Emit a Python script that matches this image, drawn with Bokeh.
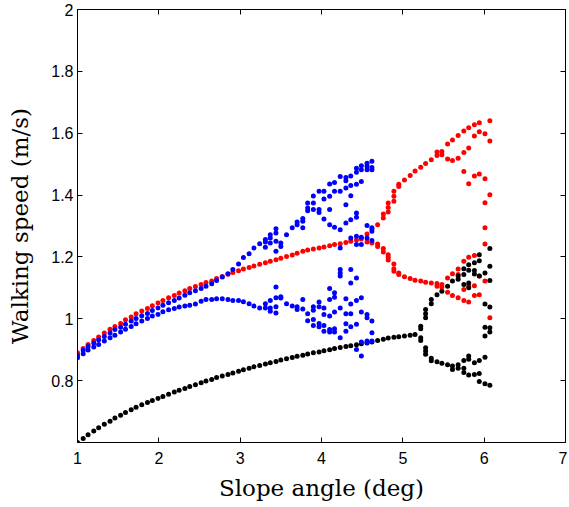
from bokeh.plotting import figure
from bokeh.models import LinearAxis, FixedTicker, Range1d, ColumnDataSource
from bokeh.embed import file_html
from bokeh.resources import INLINE

# ---------------- data ----------------
SLOPE = [1.00, 1.07, 1.13, 1.20, 1.26, 1.33, 1.40, 1.46, 1.53, 1.59,
         1.66, 1.72, 1.79, 1.86, 1.92, 1.99, 2.05, 2.12, 2.19, 2.25,
         2.32, 2.38, 2.45, 2.52, 2.58, 2.65, 2.71, 2.78, 2.85, 2.91,
         2.98, 3.04, 3.11, 3.17, 3.24, 3.31, 3.37, 3.44, 3.50, 3.57,
         3.64, 3.70, 3.77, 3.83, 3.90, 3.97, 4.03, 4.10, 4.16, 4.23,
         4.30, 4.36, 4.43, 4.49, 4.56, 4.62, 4.69, 4.76, 4.82, 4.89,
         4.95, 5.02, 5.09, 5.15, 5.22, 5.28, 5.35, 5.42, 5.48, 5.55,
         5.61, 5.68, 5.75, 5.81, 5.88, 5.94, 6.01, 6.07]

BLACK_MAIN = [0.600, 0.613, 0.625, 0.637, 0.648, 0.659, 0.669, 0.679, 0.688, 0.697,
              0.706, 0.714, 0.722, 0.729, 0.736, 0.742, 0.749, 0.756, 0.763, 0.769,
              0.775, 0.781, 0.787, 0.793, 0.799, 0.804, 0.810, 0.815, 0.820, 0.825,
              0.830, 0.835, 0.840, 0.845, 0.849, 0.854, 0.858, 0.862, 0.867, 0.871,
              0.875, 0.879, 0.882, 0.886, 0.890, 0.893, 0.897, 0.900, 0.904, 0.907,
              0.910, 0.913, 0.916, 0.919, 0.922, 0.925, 0.930, 0.934, 0.938, 0.940,
              0.942, 0.944, 0.947, 0.949]

BLACK_BRANCH = {
    5.22: [0.976, 0.968, 0.939, 0.930],
    5.28: [1.030, 1.016, 1.003, 0.906, 0.896, 0.885],
    5.35: [1.062, 1.049, 0.872, 0.864],
    5.42: [1.078, 0.861],
    5.48: [1.089, 0.856],
    5.55: [1.105, 0.851],
    5.61: [1.122, 0.847, 0.836],
    5.68: [1.138, 1.128, 0.851, 0.840],
    5.75: [1.162, 1.143, 1.111, 0.865, 0.840, 0.826],
    5.81: [1.175, 1.157, 1.116, 1.100, 0.880, 0.869, 0.818],
    5.88: [1.181, 1.156, 1.145, 0.858, 0.820],
    5.94: [1.207, 1.188, 1.138, 0.865, 0.823, 0.797],
    6.01: [1.148, 1.048, 0.973, 0.944, 0.876, 0.790],
    6.07: [1.227, 1.170, 1.124, 1.038, 0.971, 0.957, 0.785],
}

RED_MAIN = [0.890, 0.904, 0.917, 0.930, 0.941, 0.954, 0.966, 0.975, 0.985, 0.997,
            1.006, 1.016, 1.025, 1.033, 1.042, 1.051, 1.059, 1.068, 1.075, 1.083,
            1.091, 1.098, 1.104, 1.111, 1.117, 1.122, 1.130, 1.137, 1.144, 1.150,
            1.155, 1.161, 1.166, 1.171, 1.176, 1.181, 1.186, 1.191, 1.196, 1.201,
            1.206, 1.212, 1.218, 1.222, 1.226, 1.229, 1.232, 1.236, 1.240, 1.243,
            1.247, 1.251, 1.255, 1.258]

RED_BRANCH = {
    4.56: [1.274, 1.248],
    4.62: [1.290, 1.245],
    4.69: [1.304, 1.242, 1.234],
    4.76: [1.339, 1.326, 1.227, 1.216],
    4.82: [1.374, 1.360, 1.345, 1.207, 1.199, 1.190],
    4.89: [1.412, 1.396, 1.380, 1.177, 1.162, 1.154],
    4.95: [1.435, 1.428, 1.148, 1.143],
    5.02: [1.449, 1.136],
    5.09: [1.463, 1.130],
    5.15: [1.478, 1.125],
    5.22: [1.490, 1.122],
    5.28: [1.502, 1.118],
    5.35: [1.514, 1.116],
    5.42: [1.539, 1.528, 1.114, 1.105],
    5.48: [1.541, 1.530, 1.111, 1.103],
    5.55: [1.565, 1.517, 1.132, 1.086],
    5.61: [1.578, 1.512, 1.146, 1.075],
    5.68: [1.593, 1.519, 1.161, 1.143, 1.068],
    5.75: [1.607, 1.538, 1.476, 1.186, 1.095, 1.059],
    5.81: [1.618, 1.552, 1.437, 1.199, 1.107, 1.054],
    5.88: [1.627, 1.591, 1.462, 1.205, 1.107, 1.075],
    5.94: [1.634, 1.605, 1.468, 1.138, 1.078],
    6.01: [1.598, 1.453, 1.375, 1.294, 1.242, 1.122],
    6.07: [1.640, 1.575, 1.401, 1.003],
}

BLUE_UPPER = [0.882, 0.898, 0.910, 0.922, 0.932, 0.943, 0.954, 0.965, 0.973, 0.982,
              0.993, 1.001, 1.010, 1.017, 1.027, 1.035, 1.044, 1.052, 1.059, 1.067,
              1.076, 1.084, 1.091, 1.098, 1.105, 1.113, 1.124, 1.135, 1.146, 1.159,
              1.177, 1.198, 1.210, 1.229, 1.243]

BLUE_LOWER = [0.874, 0.887, 0.899, 0.909, 0.917, 0.928, 0.939, 0.947, 0.957, 0.966,
              0.975, 0.984, 0.993, 1.001, 1.009, 1.014, 1.023, 1.029, 1.033, 1.038,
              1.041, 1.044, 1.048, 1.057, 1.062, 1.062, 1.065, 1.065, 1.062, 1.059,
              1.059, 1.055, 1.049, 1.041, 1.035]

BLUE_BRANCH = {
    3.31: [1.256, 1.248, 1.231, 1.049, 1.035],
    3.37: [1.272, 1.261, 1.245, 1.059, 1.035, 1.024],
    3.44: [1.291, 1.277, 1.251, 1.218, 1.103, 1.068, 1.039, 1.019],
    3.50: [1.245, 1.234, 1.071, 1.067],
    3.57: [1.272, 1.049],
    3.64: [1.294, 1.041],
    3.70: [1.313, 1.304, 1.039, 1.030],
    3.77: [1.324, 1.315, 1.294, 1.062, 1.032],
    3.83: [1.374, 1.358, 1.349, 1.016, 0.994],
    3.90: [1.397, 1.374, 1.353, 1.039, 1.028, 0.998, 0.978],
    3.97: [1.412, 1.353, 1.344, 1.054, 1.039, 0.985, 0.974],
    4.03: [1.412, 1.387, 1.323, 1.035, 1.014, 0.978, 0.960],
    4.10: [1.436, 1.396, 1.353, 1.304, 1.098, 1.062, 1.009, 0.965, 0.957],
    4.16: [1.441, 1.412, 1.296, 1.084, 1.070, 1.022, 0.968, 0.957],
    4.23: [1.460, 1.412, 1.288, 1.229, 1.159, 1.148, 1.138, 1.035, 0.939],
    4.30: [1.457, 1.446, 1.423, 1.369, 1.310, 1.065, 1.016, 0.984, 0.960],
    4.36: [1.462, 1.431, 1.398, 1.320, 1.261, 1.159, 1.116, 1.048, 1.016, 0.974],
    4.43: [1.487, 1.474, 1.435, 1.342, 1.328, 1.267, 1.240, 1.132, 1.059, 0.982, 0.901],
    4.49: [1.495, 1.482, 1.444, 1.264, 1.240, 1.068, 1.022, 0.925, 0.880],
    4.56: [1.503, 1.493, 1.482, 1.302, 1.261, 1.014, 1.003, 0.928, 0.923],
    4.62: [1.509, 1.489, 1.482, 1.294, 1.283, 1.253, 0.993, 0.955, 0.928],
}

X_TICKS = [1, 2, 3, 4, 5, 6, 7]
Y_TICKS = [0.8, 1.0, 1.2, 1.4, 1.6, 1.8, 2.0]
Y_LABELS = ["0.8", "1", "1.2", "1.4", "1.6", "1.8", "2"]


def collect(main, branch):
    xs = list(SLOPE[:len(main)])
    ys = list(main)
    for s, vals in branch.items():
        xs.extend([s] * len(vals))
        ys.extend(vals)
    return ColumnDataSource(dict(x=xs, y=ys))


black_src = collect(BLACK_MAIN, BLACK_BRANCH)
red_src = collect(RED_MAIN, RED_BRANCH)
blue_up = ColumnDataSource(dict(x=SLOPE[:len(BLUE_UPPER)], y=BLUE_UPPER))
blue_src = collect(BLUE_LOWER, BLUE_BRANCH)

# ---------------- figure ----------------
p = figure(frame_width=488, frame_height=433,
           x_range=Range1d(1, 7), y_range=Range1d(0.6, 2),
           output_backend="svg", toolbar_location=None,
           min_border_left=77, min_border_top=9, min_border_right=2,
           min_border_bottom=40,
           background_fill_color="white", border_fill_color="white")
p.xgrid.visible = False
p.ygrid.visible = False
p.outline_line_color = "black"
p.outline_line_width = 1

TICK_FONT = "Liberation Sans"
LABEL_FONT = "DejaVu Serif"

xa = p.xaxis[0]
xa.ticker = FixedTicker(ticks=X_TICKS)
xa.axis_label = "Slope angle (deg)"
ya = p.yaxis[0]
ya.ticker = FixedTicker(ticks=Y_TICKS)
ya.major_label_overrides = {t: l for t, l in zip(Y_TICKS, Y_LABELS)}
ya.axis_label = "Walking speed (m/s)"

for ax in (xa, ya):
    ax.major_tick_in = 5
    ax.major_tick_out = 0
    ax.minor_tick_line_color = None
    ax.axis_line_color = "black"
    ax.major_tick_line_color = "black"
    ax.major_label_text_font = TICK_FONT
    ax.major_label_text_font_size = "16px"
    ax.major_label_text_color = "black"
    ax.axis_label_text_font = LABEL_FONT
    ax.axis_label_text_font_size = "23px"
    ax.axis_label_text_font_style = "normal"
    ax.axis_label_text_color = "black"
xa.major_label_standoff = 9
xa.axis_label_standoff = 8
ya.major_label_standoff = 4
ya.axis_label_standoff = 15

top = LinearAxis(ticker=FixedTicker(ticks=X_TICKS))
top.major_label_overrides = {t: "" for t in X_TICKS}
right = LinearAxis(ticker=FixedTicker(ticks=Y_TICKS))
right.major_label_overrides = {t: "" for t in Y_TICKS}
for ax in (top, right):
    ax.major_tick_in = 5
    ax.major_tick_out = 0
    ax.minor_tick_line_color = None
    ax.major_label_text_font_size = "1px"
    ax.major_label_standoff = 0
    ax.axis_line_color = "black"
    ax.major_tick_line_color = "black"
p.add_layout(top, "above")
p.add_layout(right, "right")

DOT = 5
p.scatter("x", "y", source=red_src, size=DOT, fill_color="#ff0000", line_color=None)
p.scatter("x", "y", source=black_src, size=DOT, fill_color="#000000", line_color=None)
p.scatter("x", "y", source=blue_up, size=DOT, fill_color="#0000ff", line_color=None)
p.scatter("x", "y", source=blue_src, size=DOT, fill_color="#0000ff", line_color=None)

open("out.html", "w").write(file_html(p, INLINE))
